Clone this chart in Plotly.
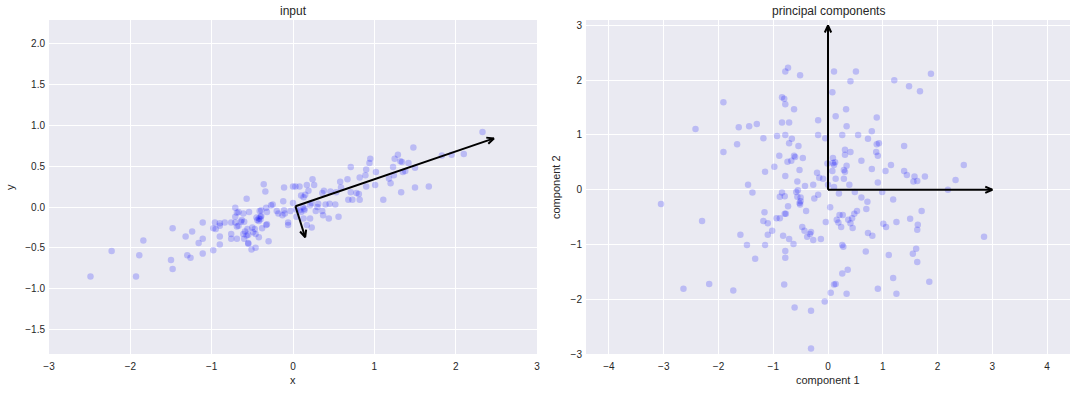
import plotly.graph_objects as go

# ---------------- data ----------------
input_x = [2.33, 1.48, 2.10, 1.95, 1.83, 0.95, 1.29, 1.25, 1.32, 1.34, 1.42, 0.94, 0.71, 1.23, 1.50,
           0.90, 1.02, 1.35, 1.38, 0.89, 0.82, 1.24, 1.18, 1.20, 0.24, 0.67, 0.58, 0.59, 1.01, 0.90,
           -0.36, -0.11, 0.00, 0.03, 0.08, 0.17, 0.26, 1.50, 1.67, -0.34, 1.33, 0.19, 0.38, 0.46, 0.36,
           0.53, 0.71, 0.78, 0.81, 0.10, 0.13, 0.15,
           1.11, 0.68, 0.73, 0.82, 0.45, 0.52, -0.12, 0.00, -0.25, -0.27, -0.57, -0.71, -0.67, -0.69,
           -0.54, -0.61, -0.41, -0.39, -0.33, -0.32, -0.20, -0.18, -0.11, -0.10, -0.13, -0.03, 0.04, 0.08,
           0.10, 0.14, 0.14, 0.12, 0.21, 0.23, 0.28, 0.30, 0.31, 0.36, 0.37, 0.40, 0.04, 0.13, 0.21,
           0.23, 0.17, 0.44, 0.56, -0.06, -0.06, -0.45, -0.42, -0.40, -0.39, -0.40, -0.44, -0.42, -0.63,
           -0.60, -0.64, -0.71, -0.76, -0.71, -0.84, -0.90, -0.96, -0.95, -0.90, -0.98, -0.67, -0.69, -0.56,
           -0.59, -0.50, -0.47, -0.38, -0.32, -0.33, -0.61, -0.57, -0.55, -0.49, -0.46, -0.76, -0.69, -0.76,
           -0.60, -0.42, -0.30, -0.55, -0.55, -0.51, -0.46, -0.90, -0.90, -1.11, -1.11, -1.24, -1.16, -1.48,
           -1.32, -0.98, -1.11, -1.30, -1.26, -1.50, -1.48, -1.84, -1.89, -2.23, -1.93, -2.49]
input_y = [0.92, 0.73, 0.65, 0.64, 0.63, 0.59, 0.64, 0.59, 0.56, 0.55, 0.54, 0.54, 0.49, 0.49, 0.48,
           0.46, 0.43, 0.43, 0.44, 0.39, 0.36, 0.39, 0.35, 0.29, 0.34, 0.34, 0.31, 0.24, 0.27, 0.25,
           0.28, 0.24, 0.25, 0.25, 0.25, 0.27, 0.27, 0.24, 0.25, 0.19, 0.18, 0.20, 0.20, 0.19, 0.17,
           0.18, 0.18, 0.17, 0.16, 0.14, 0.12, 0.15,
           0.09, 0.09, 0.09, 0.09, 0.04, 0.03, 0.07, 0.05, 0.03, 0.02, 0.10, -0.01, -0.06, -0.07,
           -0.06, -0.08, -0.05, -0.04, -0.01, -0.06, -0.05, -0.08, -0.04, -0.08, -0.10, -0.05, -0.03, -0.04,
           -0.06, -0.04, -0.02, 0.00, 0.02, 0.05, -0.05, 0.00, 0.04, -0.05, -0.10, 0.03, -0.12, -0.14, -0.14,
           -0.25, -0.22, -0.14, -0.12, -0.19, -0.22, -0.13, -0.14, -0.12, -0.11, -0.15, -0.16, -0.17, -0.16,
           -0.18, -0.18, -0.12, -0.19, -0.19, -0.19, -0.20, -0.19, -0.27, -0.23, -0.26, -0.23, -0.24, -0.27,
           -0.30, -0.25, -0.27, -0.26, -0.21, -0.22, -0.33, -0.35, -0.34, -0.31, -0.33, -0.33, -0.39, -0.39,
           -0.39, -0.37, -0.42, -0.45, -0.44, -0.52, -0.50, -0.36, -0.46, -0.19, -0.39, -0.30, -0.44, -0.26,
           -0.36, -0.53, -0.57, -0.59, -0.62, -0.65, -0.76, -0.41, -0.59, -0.54, -0.85, -0.85]

pc_x = [-0.73, -0.78, -0.51, 0.11, 0.51, 0.41, 1.88, 1.21, 1.48, 1.68, 0.08, -0.84, -0.80, -0.78, -1.91,
        -0.62, 0.33, 0.14, 0.89, -0.18, -0.84, -0.71, 0.34, -2.42, -1.63, -1.44, -1.30, -1.18, -0.93, -0.78,
        -0.66, -0.18, -0.05, 0.26, 0.55, 0.73, 0.80, 0.89, 0.93, 1.39, -0.71, -0.54, -1.66, -1.91, 0.31,
        0.41, 0.31, 0.88, 0.91, -0.89, -0.62, -0.60, -0.46, 0.09, -0.67, -0.74, 0.61, 1.15, 2.48, -0.01,
        0.09, 0.13, 0.11, 0.34, -0.98, -1.15, -0.78, -0.52, 0.08, 0.29, 0.31, 0.80, 1.05, 1.39, 1.44,
        1.58, 1.63, 1.56, 1.77, 2.33, -0.20, -0.16, -0.09, 0.14, 0.29, -0.56, -1.46, -0.42, -0.27, 0.00,
        0.11, 0.39, 0.91, 2.19, -0.58, -0.55, -0.84, -0.79, -1.38, 0.20, 0.49, 0.99, -0.18, -0.50, -0.56,
        -0.88, -0.25, 0.61, 1.19,
        -3.05, -2.30, -1.16, -1.18, -1.10, -1.02, -1.60, -1.10, -1.48, -1.15, -1.33, -2.64, -2.17, -1.73,
        -0.94, -0.88, -0.79, -0.77, -0.73, -0.52, -0.50, -0.51, -0.40, -0.82, -0.71, -0.63, -0.47, -0.43,
        -0.38, -0.33, -0.31, -0.27, -0.13, -0.78, -0.78, -0.80, -0.61, -0.31, -0.06, -0.31,
        0.04, -0.04, 0.21, 0.27, 0.16, 0.19, 0.24, 0.41, 0.37, 0.44, 0.48, 0.53, 0.45, 0.72, 0.70, 0.73,
        0.81, 1.01, 1.06, 1.25, 1.50, 1.64, 1.63, 1.71, 0.26, 0.28, 0.69, 1.11, 1.61, 1.55, 1.63, 0.26,
        0.36, 0.11, 0.14, 0.05, 0.34, 0.91, 1.19, 1.25, 1.85, 2.85]
pc_y = [2.23, 2.16, 2.09, 2.16, 2.16, 1.98, 2.12, 2.00, 1.89, 1.80, 1.78, 1.69, 1.66, 1.56, 1.60,
        1.47, 1.47, 1.34, 1.32, 1.27, 1.23, 1.23, 1.16, 1.11, 1.14, 1.16, 1.20, 0.94, 0.98, 1.00,
        0.93, 1.00, 0.94, 1.00, 1.00, 0.93, 1.07, 0.83, 0.85, 0.80, 0.85, 0.80, 0.83, 0.69, 0.73,
        0.69, 0.64, 0.69, 0.62, 0.62, 0.62, 0.60, 0.58, 0.58, 0.53, 0.51, 0.53, 0.45, 0.45, 0.48,
        0.49, 0.50, 0.45, 0.44, 0.42, 0.33, 0.25, 0.36, 0.34, 0.36, 0.33, 0.38, 0.34, 0.34, 0.27,
        0.24, 0.16, 0.15, 0.24, 0.18, 0.31, 0.22, 0.20, 0.20, 0.20, 0.15, 0.09, 0.07, 0.09, 0.09,
        0.05, 0.09, 0.13, 0.00, -0.04, -0.01, -0.05, -0.12, -0.05, -0.07, -0.04, -0.04, -0.09, -0.14, -0.13,
        -0.13, -0.16, -0.14, -0.18,
        -0.26, -0.57, -0.41, -0.57, -0.61, -0.75, -0.82, -0.82, -1.01, -1.01, -1.26, -1.81, -1.72, -1.84,
        -0.52, -0.52, -0.44, -0.44, -0.30, -0.24, -0.21, -0.27, -0.39, -0.84, -0.90, -0.99, -0.68, -0.75,
        -0.86, -0.81, -0.77, -0.92, -0.90, -1.12, -1.24, -1.73, -2.15, -2.21, -2.04, -2.90,
        -0.32, -0.59, -0.46, -0.46, -0.55, -0.60, -0.68, -0.61, -0.55, -0.52, -0.44, -0.39, -0.70, -0.22, -0.35, -0.79,
        -0.84, -0.62, -0.68, -0.59, -0.53, -0.64, -0.73, -0.39, -1.01, -1.04, -1.13, -1.19, -1.08, -1.17, -1.32, -1.53,
        -1.46, -1.73, -1.72, -1.88, -1.90, -1.81, -1.61, -1.90, -1.68, -0.86]

input_mean = [0.03, 0.01]
input_vectors = [[2.44, 0.83], [0.12, -0.38]]
pc_origin = [0.0, 0.0]
pc_vectors = [[3.0, 0.0], [0.0, 3.0]]

input_xticks = [-3, -2, -1, 0, 1, 2, 3]
input_yticks = [-1.5, -1.0, -0.5, 0.0, 0.5, 1.0, 1.5, 2.0]
pc_xticks = [-4, -3, -2, -1, 0, 1, 2, 3, 4]
pc_yticks = [-3, -2, -1, 0, 1, 2, 3]

titles = ["input", "principal components"]
xlabels = ["x", "component 1"]
ylabels = ["y", "component 2"]

# ---------------- layout constants ----------------
W, H = 1078, 393
L_PX = (49, 537)
R_PX = (586, 1070)
Y_PX = (20, 354)
left_xrange = [-3, 3]
left_yrange = [-1.80, 2.29]
right_yrange = [-3.0, 3.1]
ppu_right = (Y_PX[1] - Y_PX[0]) / (right_yrange[1] - right_yrange[0])
half_w = (R_PX[1] - R_PX[0]) / ppu_right / 2
right_xrange = [-half_w, half_w]
ppu_left = (L_PX[1] - L_PX[0]) / (left_xrange[1] - left_xrange[0])

FONT = "Liberation Sans, Arial, sans-serif"
TXT = "#262626"
POINT = "rgba(0,0,255,0.2)"


def arrow_path(start, vec, ppu, head_len=7.0, head_half=3.2):
    x0, y0 = start
    x1, y1 = x0 + vec[0], y0 + vec[1]
    dx, dy = vec
    n = (dx * dx + dy * dy) ** 0.5
    ux, uy = dx / n, dy / n
    px, py = -uy, ux
    hl, hw = head_len / ppu, head_half / ppu
    bx, by = x1 - ux * hl, y1 - uy * hl
    xs = [x0, x1, None, bx + px * hw, x1, bx - px * hw, None]
    ys = [y0, y1, None, by + py * hw, y1, by - py * hw, None]
    return xs, ys


fig = go.Figure()

fig.add_trace(go.Scatter(x=input_x, y=input_y, mode="markers",
                         marker=dict(size=6.5, color=POINT, line=dict(width=0)),
                         xaxis="x", yaxis="y", showlegend=False, hoverinfo="skip"))
fig.add_trace(go.Scatter(x=pc_x, y=pc_y, mode="markers",
                         marker=dict(size=6.5, color=POINT, line=dict(width=0)),
                         xaxis="x2", yaxis="y2", showlegend=False, hoverinfo="skip"))

ax_, ay_ = [], []
for v in input_vectors:
    a, b = arrow_path(input_mean, v, ppu_left)
    ax_ += a
    ay_ += b
fig.add_trace(go.Scatter(x=ax_, y=ay_, mode="lines", line=dict(color="black", width=2),
                         xaxis="x", yaxis="y", showlegend=False, hoverinfo="skip"))
bx_, by_ = [], []
for v in pc_vectors:
    a, b = arrow_path(pc_origin, v, ppu_right)
    bx_ += a
    by_ += b
fig.add_trace(go.Scatter(x=bx_, y=by_, mode="lines", line=dict(color="black", width=2),
                         xaxis="x2", yaxis="y2", showlegend=False, hoverinfo="skip"))

ydom = [1 - Y_PX[1] / H, 1 - Y_PX[0] / H]


def axis(domain, rng, ticks, fmt, anchor, standoff):
    return dict(domain=domain, range=rng, tickvals=ticks, tickformat=fmt, anchor=anchor,
                showgrid=True, gridcolor="white", gridwidth=1, zeroline=False, showline=False,
                ticks="", automargin=False, fixedrange=True, ticklabelstandoff=standoff,
                tickfont=dict(family=FONT, size=10, color=TXT))


fig.update_layout(
    width=W, height=H,
    margin=dict(l=0, r=0, t=0, b=0),
    paper_bgcolor="white", plot_bgcolor="#EAEAF2",
    font=dict(family=FONT, color=TXT),
    hovermode=False,
    xaxis=axis([L_PX[0] / W, L_PX[1] / W], left_xrange, input_xticks, "d", "y", 5),
    yaxis=axis(ydom, left_yrange, input_yticks, ".1f", "x", 3),
    xaxis2=axis([R_PX[0] / W, R_PX[1] / W], right_xrange, pc_xticks, "d", "y2", 5),
    yaxis2=axis(ydom, right_yrange, pc_yticks, "d", "x2", 3),
)

anns = []
for i, (px0, px1) in enumerate([L_PX, R_PX]):
    cx = (px0 + px1) / 2 / W
    anns.append(dict(text=titles[i], x=cx, y=1 - 11 / H, xref="paper", yref="paper",
                     showarrow=False, font=dict(family=FONT, size=12, color=TXT),
                     xanchor="center", yanchor="middle"))
    anns.append(dict(text=xlabels[i], x=cx, y=1 - 380 / H, xref="paper", yref="paper",
                     showarrow=False, font=dict(family=FONT, size=11, color=TXT),
                     xanchor="center", yanchor="middle"))
anns.append(dict(text=ylabels[0], x=10 / W, y=1 - 187 / H, xref="paper", yref="paper",
                 showarrow=False, textangle=-90, font=dict(family=FONT, size=11, color=TXT),
                 xanchor="center", yanchor="middle"))
anns.append(dict(text=ylabels[1], x=556 / W, y=1 - 187 / H, xref="paper", yref="paper",
                 showarrow=False, textangle=-90, font=dict(family=FONT, size=11, color=TXT),
                 xanchor="center", yanchor="middle"))
fig.update_layout(annotations=anns)

fig.write_html("out.html", config={"displayModeBar": False},
               post_script="document.body.style.margin='0px';")
